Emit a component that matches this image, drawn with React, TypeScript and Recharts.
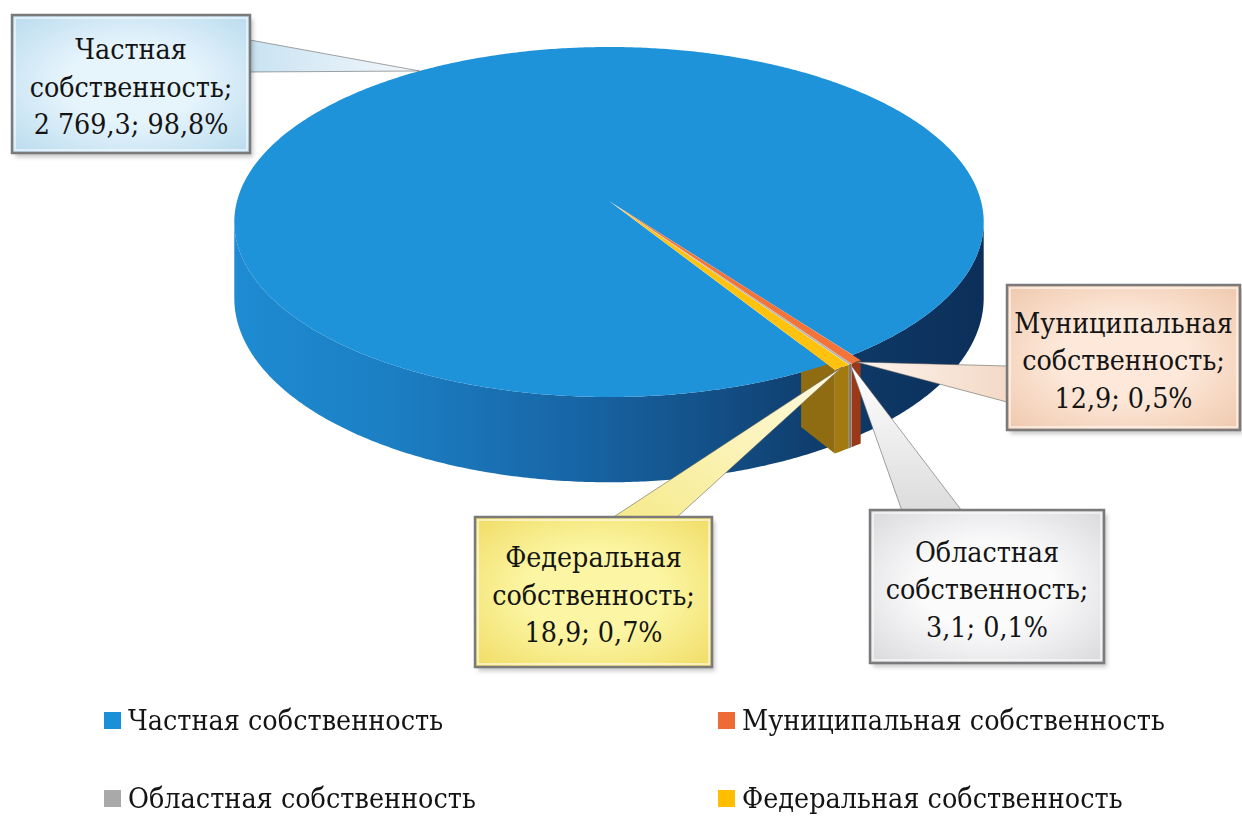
import React from 'react';
import { PieChart, Pie } from 'recharts';

// ownership structure, values and shares
const NAMES = [
  'Частная собственность',
  'Муниципальная собственность',
  'Областная собственность',
  'Федеральная собственность',
];
const VALUES = [2769.3, 12.9, 3.1, 18.9];

const TOP_COLORS = ['#1f93da', '#f2743a', '#b3b3b3', '#ffc20e'];
const SIDE_COLORS = ['url(#blueSide)', '#9b3818', '#767676', '#a27a10'];
const FACE_COLOR = '#8f6c12';
const LEGEND_COLORS = ['#1b8fd8', '#ee6b35', '#a9a9a9', '#ffbf00'];

const SERIF = '"DejaVu Serif", serif';

// callout boxes (layout only)
const BOXES = [
  { x: 12, y: 15, w: 238, h: 138, base: [[250, 40], [250, 72]], grad: 'boxBlue', ptr: 'ptrBlue' },
  { x: 1007, y: 285, w: 233, h: 145, base: [[1007, 366], [1007, 402]], grad: 'boxPeach', ptr: 'ptrPeach' },
  { x: 870, y: 510, w: 234, h: 153, base: [[902, 511], [962, 511]], grad: 'boxGray', ptr: 'ptrGray' },
  { x: 475, y: 517, w: 237, h: 150, base: [[612, 518], [676, 518]], grad: 'boxYellow', ptr: 'ptrYellow' },
];

const data = NAMES.map((name, i) => ({ name, value: VALUES[i] }));

const PERSP = 0.12;
const FLAT = 0.4637;
const DEPTH = 75;
const EXPLODE = 0.03;
const FACE_FROM = 0.86;

const rad = (d: number) => (d * Math.PI) / 180;

function pt(cx: number, cy: number, R: number, deg: number, rf: number, drop: number, exDeg?: number) {
  let u = rf * Math.cos(rad(deg));
  let v = rf * Math.sin(rad(deg));
  if (exDeg !== undefined) {
    u += EXPLODE * Math.cos(rad(exDeg));
    v += EXPLODE * Math.sin(rad(exDeg));
  }
  const s = 1 / (1 + PERSP * v);
  return [cx + R * u * s, cy - R * FLAT * v * s + drop * s];
}

function angles(a0: number, a1: number) {
  const n = Math.max(2, Math.ceil(Math.abs(a1 - a0) / 0.5));
  const out: number[] = [];
  for (let i = 0; i <= n; i++) out.push(a0 + ((a1 - a0) * i) / n);
  return out;
}

const toPath = (pts: number[][]) =>
  pts.map((p, i) => `${i ? 'L' : 'M'}${p[0].toFixed(2)},${p[1].toFixed(2)}`).join(' ') + ' Z';

const SideShape = (p: any) => {
  const i = NAMES.indexOf(p.name);
  const ex = i > 0 ? p.midAngle : undefined;
  const runs: number[][] = [];
  let cur: number[] = [];
  for (const a of angles(p.startAngle, p.endAngle)) {
    if (Math.sin(rad(a)) < -PERSP) cur.push(a);
    else if (cur.length) {
      runs.push(cur);
      cur = [];
    }
  }
  if (cur.length) runs.push(cur);
  return (
    <g>
      {runs
        .filter((r) => r.length > 1)
        .map((r, k) => {
          const top = r.map((a) => pt(p.cx, p.cy, p.outerRadius, a, 1, 0, ex));
          const bot = r
            .slice()
            .reverse()
            .map((a) => pt(p.cx, p.cy, p.outerRadius, a, 1, DEPTH, ex));
          return <path key={k} d={toPath([...top, ...bot])} fill={SIDE_COLORS[i]} />;
        })}
    </g>
  );
};

const FaceShape = (p: any) => {
  const i = NAMES.indexOf(p.name);
  if (i !== NAMES.length - 1) return <g />;
  const a = p.endAngle;
  const pts = [
    pt(p.cx, p.cy, p.outerRadius, a, FACE_FROM, 0, p.midAngle),
    pt(p.cx, p.cy, p.outerRadius, a, 1, 0, p.midAngle),
    pt(p.cx, p.cy, p.outerRadius, a, 1, DEPTH, p.midAngle),
    pt(p.cx, p.cy, p.outerRadius, a, FACE_FROM, DEPTH, p.midAngle),
  ];
  return <path d={toPath(pts)} fill={FACE_COLOR} />;
};

const TopShape = (p: any) => {
  const i = NAMES.indexOf(p.name);
  const ex = i > 0 ? p.midAngle : undefined;
  const pts = [
    pt(p.cx, p.cy, p.outerRadius, p.startAngle, 0, 0, ex),
    ...angles(p.startAngle, p.endAngle).map((a) => pt(p.cx, p.cy, p.outerRadius, a, 1, 0, ex)),
  ];
  return <path d={toPath(pts)} fill={TOP_COLORS[i]} />;
};

const fmtValue = (v: number) => {
  const [int, dec] = v.toFixed(1).split('.');
  return int.replace(/\B(?=(\d{3})+(?!\d))/g, ' ') + ',' + dec;
};

const Callout = (p: any) => {
  const i = NAMES.indexOf(p.name);
  const b = BOXES[i];
  const ex = i > 0 ? p.midAngle : undefined;
  const tip = pt(p.cx, p.cy, p.outerRadius, p.midAngle, 1, 0, ex);
  const words = p.name.split(' ');
  const lines = [words[0], words[1] + ';', `${fmtValue(p.value)}; ${(p.percent * 100).toFixed(1).replace('.', ',')}%`];
  const mid = b.y + b.h / 2 + 3;
  return (
    <g>
      <path
        d={toPath([b.base[0], tip, b.base[1]])}
        fill={`url(#${b.ptr})`}
        stroke="rgba(90,90,90,0.55)"
        strokeWidth={1}
      />
      <rect x={b.x + 3} y={b.y + 4} width={b.w} height={b.h} fill="rgba(0,0,0,0.22)" filter="url(#soft)" />
      <rect x={b.x} y={b.y} width={b.w} height={b.h} fill={`url(#${b.grad})`} stroke="#7a7a7a" strokeWidth={2.5} />
      <rect
        x={b.x + 3}
        y={b.y + 3}
        width={b.w - 6}
        height={b.h - 6}
        fill="none"
        stroke="rgba(255,255,255,0.7)"
        strokeWidth={1.5}
      />
      {lines.map((t, k) => (
        <text
          key={k}
          x={0}
          y={0}
          transform={`translate(${b.x + b.w / 2},${mid + (k - 1) * 37.5}) scale(0.91,1)`}
          textAnchor="middle"
          dominantBaseline="central"
          style={{ fontFamily: SERIF }}
          fontSize={28}
          fill="#141414"
        >
          {t}
        </text>
      ))}
    </g>
  );
};

const PIE_PROPS = {
  data,
  dataKey: 'value',
  nameKey: 'name',
  cx: 609,
  cy: 201,
  innerRadius: 0,
  outerRadius: 372,
  startAngle: -58.2,
  endAngle: -418.2,
  stroke: 'none',
  isAnimationActive: false,
};

const LEGEND_X = [104, 718];
const LEGEND_Y = [720, 798];

export default function App() {
  return (
    <div
      style={{
        position: 'absolute',
        left: 0,
        top: 0,
        width: 1242,
        height: 818,
        background: '#ffffff',
        overflow: 'hidden',
        fontFamily: SERIF,
      }}
    >
      <svg width={0} height={0} style={{ position: 'absolute' }}>
        <defs>
          <linearGradient id="blueSide" gradientUnits="userSpaceOnUse" x1={235} y1={0} x2={985} y2={0}>
            <stop offset="0" stopColor="#1e8bd2" />
            <stop offset="0.2" stopColor="#1c7fc4" />
            <stop offset="0.45" stopColor="#1766a6" />
            <stop offset="0.65" stopColor="#134e85" />
            <stop offset="0.8" stopColor="#0e3a68" />
            <stop offset="1" stopColor="#0c2f59" />
          </linearGradient>
          <radialGradient id="boxBlue" cx="0.5" cy="0.5" r="0.7">
            <stop offset="0.4" stopColor="#e6f4fc" />
            <stop offset="1" stopColor="#b9dbee" />
          </radialGradient>
          <radialGradient id="boxPeach" cx="0.5" cy="0.5" r="0.7">
            <stop offset="0.4" stopColor="#fde8d9" />
            <stop offset="1" stopColor="#efc8ad" />
          </radialGradient>
          <radialGradient id="boxYellow" cx="0.5" cy="0.5" r="0.7">
            <stop offset="0.4" stopColor="#fcf6a4" />
            <stop offset="1" stopColor="#f0dc66" />
          </radialGradient>
          <radialGradient id="boxGray" cx="0.5" cy="0.5" r="0.7">
            <stop offset="0.4" stopColor="#fbfbfc" />
            <stop offset="1" stopColor="#d9d9dc" />
          </radialGradient>
          <linearGradient id="ptrBlue" x1="0" y1="0" x2="1" y2="0">
            <stop offset="0" stopColor="#c9e3f2" />
            <stop offset="1" stopColor="#f4f8fb" />
          </linearGradient>
          <linearGradient id="ptrPeach" x1="1" y1="0" x2="0" y2="0">
            <stop offset="0" stopColor="#f4d9c6" />
            <stop offset="1" stopColor="#fbf4ee" />
          </linearGradient>
          <linearGradient id="ptrGray" x1="0" y1="1" x2="0" y2="0">
            <stop offset="0" stopColor="#dcdcdc" />
            <stop offset="1" stopColor="#ffffff" />
          </linearGradient>
          <linearGradient id="ptrYellow" x1="0" y1="1" x2="1" y2="0">
            <stop offset="0" stopColor="#f6ea8a" />
            <stop offset="1" stopColor="#fffbe2" />
          </linearGradient>
          <filter id="soft" x="-10%" y="-10%" width="120%" height="120%">
            <feGaussianBlur stdDeviation="2" />
          </filter>
        </defs>
      </svg>
      <PieChart width={1242} height={818} margin={{ top: 0, right: 0, bottom: 0, left: 0 }}>
        <Pie {...PIE_PROPS} shape={SideShape} inactiveShape={SideShape} activeShape={SideShape} />
        <Pie {...PIE_PROPS} shape={FaceShape} inactiveShape={FaceShape} activeShape={FaceShape} />
        <Pie
          {...PIE_PROPS}
          shape={TopShape}
          inactiveShape={TopShape}
          activeShape={TopShape}
          label={Callout}
          labelLine={false}
        />
      </PieChart>
      {NAMES.map((name, i) => (
        <div
          key={name}
          style={{
            position: 'absolute',
            left: LEGEND_X[i % 2],
            top: LEGEND_Y[Math.floor(i / 2)] - 20,
            height: 40,
            display: 'flex',
            alignItems: 'center',
            whiteSpace: 'nowrap',
            fontFamily: SERIF,
            fontSize: 27.5,
            color: '#141414',
          }}
        >
          <span
            style={{ display: 'inline-block', width: 17, height: 17, background: LEGEND_COLORS[i], marginRight: 7 }}
          />
          <span style={{ display: 'inline-block', transform: 'scaleX(0.93)', transformOrigin: 'left center' }}>
            {name}
          </span>
        </div>
      ))}
    </div>
  );
}
